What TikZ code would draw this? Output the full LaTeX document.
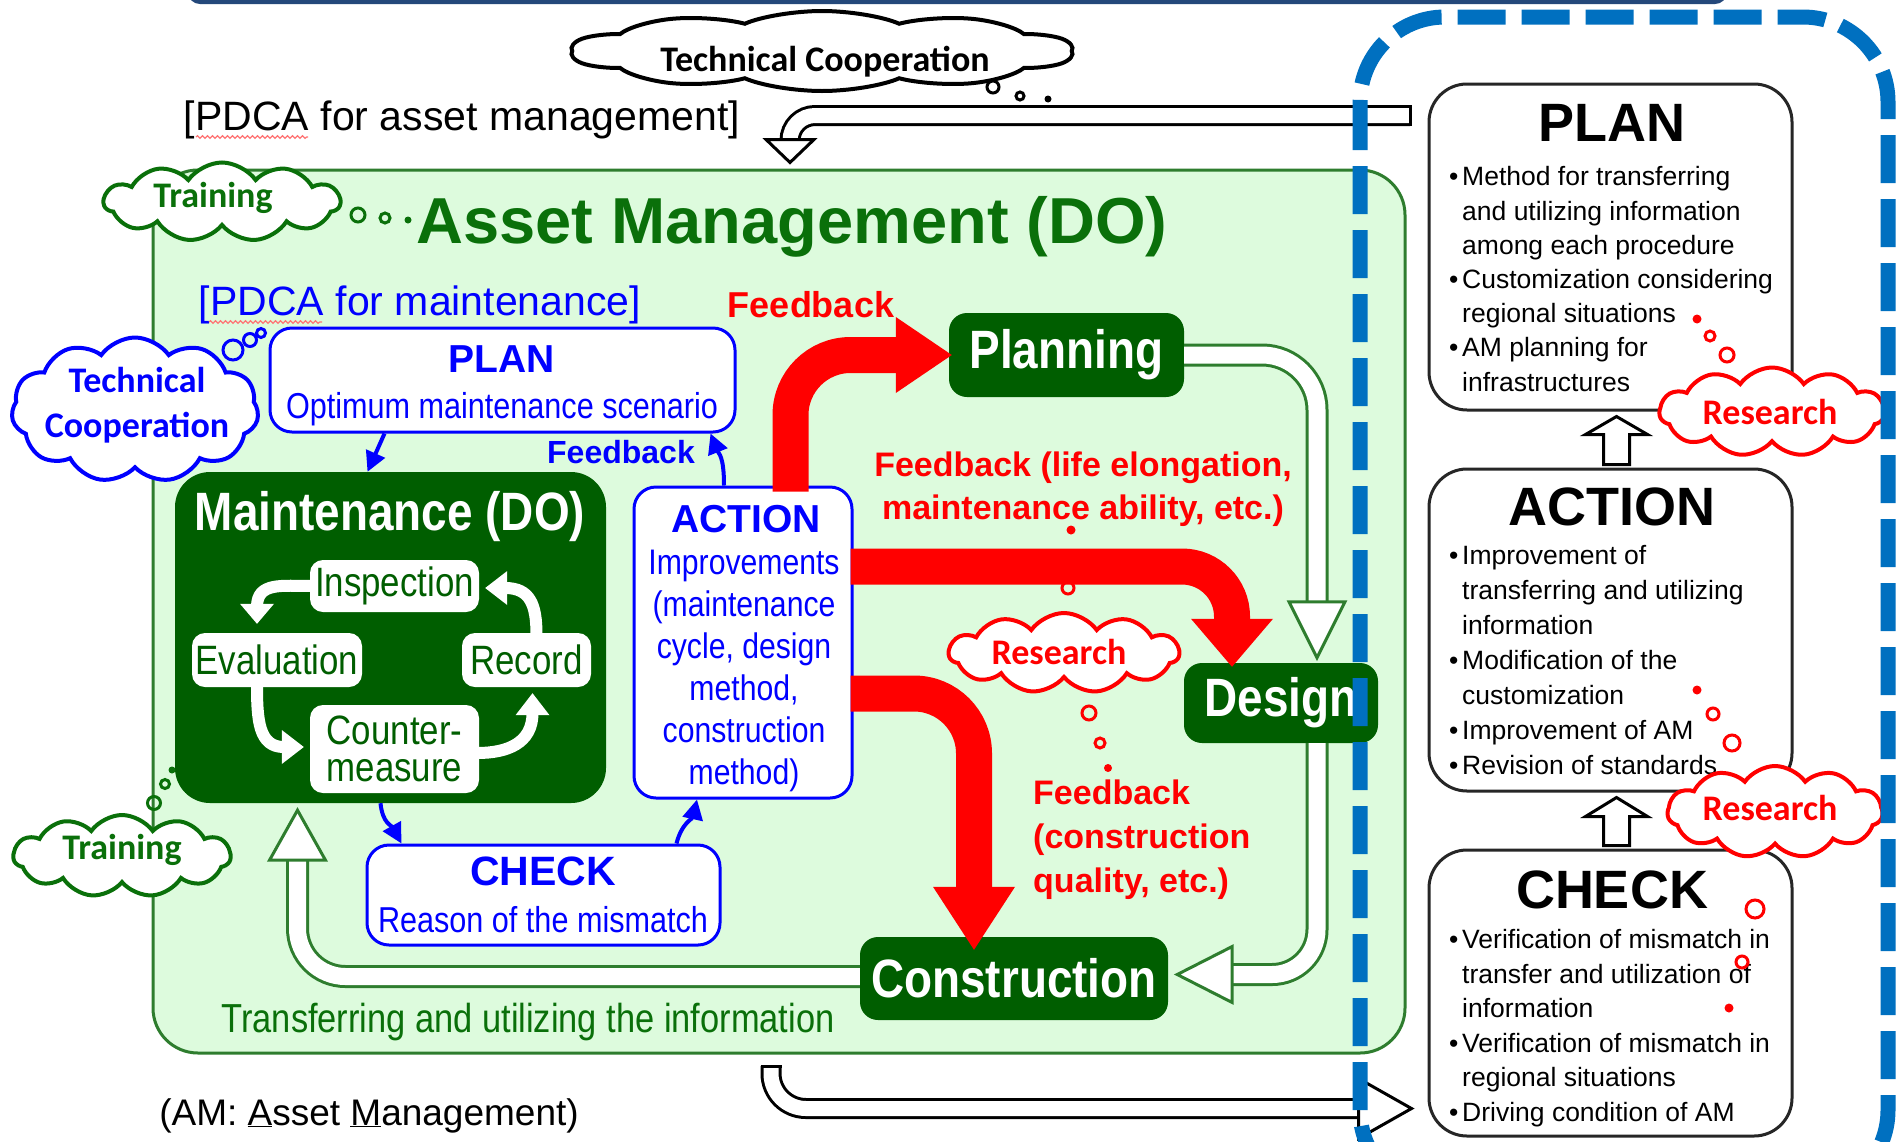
\documentclass[tikz,border=0pt]{standalone}
\usepackage{fontspec}
\setmainfont{Liberation Sans}
\newfontfamily\narrowfont[FakeStretch=0.85]{Liberation Sans}
\newfontfamily\cloudfont{Carlito}
\usetikzlibrary{calc,shapes.symbols,arrows.meta,decorations.pathmorphing}

\definecolor{amgreen}{HTML}{0A700A}
\definecolor{boxgreen}{HTML}{005E00}
\definecolor{lightgreen}{HTML}{DDFBDD}
\definecolor{edgegreen}{HTML}{2E7D2E}
\definecolor{dashblue}{HTML}{0070C0}
\definecolor{topblue}{HTML}{24487A}

\tikzset{
  darkbox/.style={fill=boxgreen, rounded corners=18pt, inner sep=0pt, text=white,
    font=\narrowfont\bfseries\fontsize{54}{58}\selectfont},
  labelbox/.style={fill=white, rounded corners=13pt, inner sep=0pt, text=boxgreen,
    align=center, font=\narrowfont\fontsize{41}{37}\selectfont},
  bluebox/.style={draw=blue, fill=white, line width=3pt, rounded corners=22pt},
  blackbox/.style={draw=black!85, fill=white, line width=3pt, rounded corners=38pt},
  cloudbox/.style={cloud, cloud puffs=11, cloud puff arc=110, cloud ignores aspect,
    draw=#1, fill=white, line width=4pt, inner sep=0pt},
  cloudtext/.style={text=#1, inner sep=0pt, align=center,
    font=\cloudfont\bfseries\fontsize{36}{45}\selectfont},
  bubble/.style={draw=#1, line width=3pt},
  bluearrow/.style={draw=blue, line width=4pt, -{Triangle[length=20pt,width=20pt]}},
  redarrow/.style={draw=red, line width=36pt, rounded corners=#1},
  hollow/.style={draw=#1, line width=3pt, double=white, double distance=17pt},
  hollowhead/.style={draw=#1, fill=white, line width=3pt},
  cyclearrow/.style={draw=white, line width=12pt},
  squiggle/.style={draw=red!55, line width=1.2pt, decorate,
    decoration={snake, amplitude=1.3pt, segment length=5pt}}
}

\begin{document}
\begin{tikzpicture}[x=1pt, y=-1pt]
\useasboundingbox (0,0) rectangle (1902,1141);
\fill[white] (0,0) rectangle (1902,1141);

%上の枠
\draw[topblue, line width=4pt, rounded corners=10pt] (190,-20) -- (190,2) -- (1725,2) -- (1725,-20);

%アセットマネジメントの枠
\node[draw=edgegreen, fill=lightgreen, line width=3pt, rounded corners=45pt,
  minimum width=1252pt, minimum height=883pt] (ambox) at (779,611.5) {};

%箱
\node[darkbox, rounded corners=35pt, minimum width=431pt, minimum height=331pt] (maint) at (390.5,637.5) {};
\node[bluebox, minimum width=465pt, minimum height=104pt] (plan) at (502.5,380) {};
\node[bluebox, minimum width=218pt, minimum height=311pt] (act) at (743,642.5) {};
\node[bluebox, minimum width=353pt, minimum height=100pt] (check) at (543.5,895) {};
\node[darkbox, minimum width=235pt, minimum height=84pt] (planning) at (1066.5,355) {Planning};
\node[darkbox, minimum width=194pt, minimum height=80pt] (design) at (1281,703) {Design};
\node[darkbox, minimum width=308pt, minimum height=83pt] (construction) at (1014,978.5) {Construction};

\node[labelbox, minimum width=169pt, minimum height=52pt] (insp) at (394.5,586) {Inspection};
\node[labelbox, minimum width=170pt, minimum height=54pt] (evalu) at (277,660) {Evaluation};
\node[labelbox, minimum width=129pt, minimum height=54pt] (record) at (526.5,660) {Record};
\node[labelbox, minimum width=169pt, minimum height=88pt] (counter) at (394.5,749) {Counter-\\measure};

%右側のPDCA
\node[blackbox, minimum width=363pt, minimum height=326pt] (rplan) at (1610.5,247) {};
\node[anchor=base, inner sep=0pt, font=\bfseries\fontsize{54}{60}\selectfont] (rplanhead) at (1612,141) {PLAN};
\node[anchor=north west, inner sep=0pt, align=left, font=\fontsize{26.5}{34.2}\selectfont] (rplanlist) at (1449,166.5)
  {\makebox[13pt][l]{\textbullet}Method for transferring\\
   \hspace*{13pt}and utilizing information\\
   \hspace*{13pt}among each procedure\\
   \makebox[13pt][l]{\textbullet}Customization considering\\
   \hspace*{13pt}regional situations\\
   \makebox[13pt][l]{\textbullet}AM planning for\\
   \hspace*{13pt}infrastructures};

\node[blackbox, minimum width=363pt, minimum height=322pt] (ract) at (1610.5,630) {};
\node[anchor=base, inner sep=0pt, font=\bfseries\fontsize{54}{60}\selectfont] (racthead) at (1612,525) {ACTION};
\node[anchor=north west, inner sep=0pt, align=left, font=\fontsize{26.5}{35}\selectfont] (ractlist) at (1449,545)
  {\makebox[13pt][l]{\textbullet}Improvement of\\
   \hspace*{13pt}transferring and utilizing\\
   \hspace*{13pt}information\\
   \makebox[13pt][l]{\textbullet}Modification of the\\
   \hspace*{13pt}customization\\
   \makebox[13pt][l]{\textbullet}Improvement of AM\\
   \makebox[13pt][l]{\textbullet}Revision of standards};

\node[blackbox, minimum width=363pt, minimum height=286pt] (rcheck) at (1610.5,993) {};
\node[anchor=base, inner sep=0pt, font=\bfseries\fontsize{54}{60}\selectfont] (rcheckhead) at (1612,908) {CHECK};
\node[anchor=north west, inner sep=0pt, align=left, font=\fontsize{26.5}{34.6}\selectfont] (rchecklist) at (1449,929)
  {\makebox[13pt][l]{\textbullet}Verification of mismatch in\\
   \hspace*{13pt}transfer and utilization of\\
   \hspace*{13pt}information\\
   \makebox[13pt][l]{\textbullet}Verification of mismatch in\\
   \hspace*{13pt}regional situations\\
   \makebox[13pt][l]{\textbullet}Driving condition of AM};

\filldraw[hollowhead=black] ($(ract.north)+(-7,-3)$) -- ++(0,-30) -- ++(-18,0) -- ++(31,-18) -- ++(31,18) -- ++(-18,0) -- ++(0,30) -- cycle;
\filldraw[hollowhead=black] ($(rcheck.north)+(-7,-3)$) -- ++(0,-29) -- ++(-18,0) -- ++(31,-19) -- ++(31,19) -- ++(-18,0) -- ++(0,29) -- cycle;

%外側の矢印
\draw[hollow=black, double distance=15pt, rounded corners=25pt]
  ($(rplan.north west)+(-17.5,33)$) -| ($(ambox.north)+(11,-26.5)$);
\draw[line width=3pt] ($(rplan.north west)+(-17.5,22.5)$) -- ++(0,21);
\filldraw[hollowhead=black] ($(ambox.north)+(11,-6)$) -- ++(-24,-23) -- ++(48,0) -- cycle;

\draw[hollow=black, double distance=15pt, rounded corners=35pt]
  ($(ambox.south)+(-8,11.5)$) |- ($(rcheck.south west)+(-67.5,-29)$);
\draw[line width=3pt] ($(ambox.south)+(-18.5,11.5)$) -- ++(21,0);
\filldraw[hollowhead=black] ($(rcheck.south west)+(-16,-29)$) -- ++(-53,-30) -- ++(0,60) -- cycle;

%白い矢印
\draw[hollow=edgegreen, rounded corners=55pt] (planning.east) -| ($(design.north)+(36,-60)$);
\filldraw[hollowhead=edgegreen] ($(design.north)+(36,-5)$) -- ++(-28,-56) -- ++(56,0) -- cycle;
\draw[hollow=edgegreen, rounded corners=45pt] ($(design.south)+(36,0)$) |- ($(construction.east)+(62,-4)$);
\filldraw[hollowhead=edgegreen] ($(construction.east)+(9,-4)$) -- ++(55,-28) -- ++(0,56) -- cycle;
\draw[hollow=edgegreen, rounded corners=48pt] ($(construction.west)+(0,-2)$) -| ($(maint.south)+(-93,55)$);
\filldraw[hollowhead=edgegreen] ($(maint.south)+(-93,7)$) -- ++(-28,50) -- ++(56,0) -- cycle;

%維持管理のサイクル
\draw[cyclearrow] ($(insp.west)+(2,0)$) .. controls +(-30,0) and +(0,-25) .. ($(evalu.north)+(-20,-26)$);
\fill[white] ($(evalu.north)+(-20,-9)$) -- ++(-17,-20) -- ++(34,0) -- cycle;
\draw[cyclearrow] ($(record.north)+(10,2)$) .. controls +(0,-30) and +(25,0) .. ($(insp.east)+(26,2)$);
\fill[white] ($(insp.east)+(6,2)$) -- ++(22,-17) -- ++(0,34) -- cycle;
\draw[cyclearrow] ($(evalu.south)+(-20,-2)$) .. controls +(0,35) and +(-25,0) .. ($(counter.west)+(-26,-2)$);
\fill[white] ($(counter.west)+(-6,-2)$) -- ++(-22,-17) -- ++(0,34) -- cycle;
\draw[cyclearrow] ($(counter.east)+(-2,4)$) .. controls +(30,0) and +(0,30) .. ($(record.south)+(6,26)$);
\fill[white] ($(record.south)+(6,6)$) -- ++(-17,22) -- ++(34,0) -- cycle;

%青い矢印
\draw[bluearrow] ($(plan.south west)+(116,0)$) -- ($(maint.north)+(-23,0)$);
\draw[bluearrow] ($(act.north)+(-19,0)$) .. controls +(0,-30) and +(8,20) .. ($(plan.south east)+(-26,0)$);
\draw[bluearrow] ($(maint.south)+(-10,0)$) .. controls +(2,20) and +(-10,-18) .. ($(check.north west)+(36,0)$);
\draw[bluearrow] ($(check.north east)+(-45,0)$) .. controls +(5,-20) and +(-4,18) .. ($(act.south)+(-46,0)$);

%赤い矢印
\draw[redarrow=60pt] ($(act.north east)+(-63,6)$) |- ($(planning.west)+(-50,0)$);
\fill[red] ($(planning.west)+(3,0)$) -- ++(-56,-38) -- ++(0,76) -- cycle;
\draw[redarrow=50pt] ($(act.north east)+(-3,81)$) -| ($(design.north)+(-49,-41)$);
\fill[red] ($(design.north)+(-49,4)$) -- ++(-41,-48) -- ++(82,0) -- cycle;
\draw[redarrow=60pt] ($(act.north east)+(-3,208)$) -| ($(construction.north)+(-40,-47)$);
\fill[red] ($(construction.north)+(-40,13)$) -- ++(-41,-63) -- ++(82,0) -- cycle;

%文字
\node[anchor=base, inner sep=0pt, font=\fontsize{41}{46}\selectfont] (pdcaam) at (462,130) {[PDCA for asset management]};
\draw[squiggle] (196,137) -- (308,137);
\node[anchor=base, inner sep=0pt, text=amgreen, font=\bfseries\fontsize{65}{70}\selectfont] (amtitle) at (792,243) {Asset Management (DO)};
\node[anchor=base, inner sep=0pt, text=blue, font=\fontsize{41}{46}\selectfont] (pdcamt) at (420,315) {[PDCA for maintenance]};
\draw[squiggle] (209,322) -- (322,322);
\node[anchor=base, inner sep=0pt, text=red, font=\bfseries\fontsize{36}{40}\selectfont] (fbplanning) at (811,317) {Feedback};
\node[anchor=base, inner sep=0pt, text=blue, font=\bfseries\fontsize{39}{44}\selectfont] (planhead) at (502,372) {PLAN};
\node[anchor=base, inner sep=0pt, text=blue, font=\narrowfont\fontsize{36}{40}\selectfont] (plantext) at (502,418) {Optimum maintenance scenario};
\node[anchor=base, inner sep=0pt, text=blue, font=\bfseries\fontsize{32}{36}\selectfont] (fbplan) at (621,463) {Feedback};
\node[anchor=base, inner sep=0pt, text=white, font=\narrowfont\bfseries\fontsize{54}{58}\selectfont] (mainthead) at (390,530) {Maintenance (DO)};
\node[anchor=base, inner sep=0pt, text=blue, font=\bfseries\fontsize{39}{44}\selectfont] (acthead) at (746,532) {ACTION};
\node[anchor=north, inner sep=0pt, align=center, text=blue, font=\narrowfont\fontsize{35.5}{42}\selectfont] (acttext) at (744,550)
  {Improvements\\(maintenance\\cycle, design\\method,\\construction\\method)};
\node[anchor=base, inner sep=0pt, text=blue, font=\bfseries\fontsize{41}{45}\selectfont] (checkhead) at (543,885) {CHECK};
\node[anchor=base, inner sep=0pt, text=blue, font=\narrowfont\fontsize{36}{40}\selectfont] (checktext) at (543,932) {Reason of the mismatch};
\node[anchor=north, inner sep=0pt, align=center, text=red, font=\bfseries\fontsize{34}{43}\selectfont] (fbdesign) at (1083,452)
  {Feedback (life elongation,\\maintenance ability, etc.)};
\node[anchor=north west, inner sep=0pt, align=left, text=red, font=\bfseries\fontsize{34}{44}\selectfont] (fbconst) at (1033,780)
  {Feedback\\(construction\\quality, etc.)};
\node[anchor=base, inner sep=0pt, text=amgreen, font=\narrowfont\fontsize{40.5}{44}\selectfont] (transfer) at (528,1032) {Transferring and utilizing the information};
\node[anchor=base, inner sep=0pt, font=\fontsize{37}{42}\selectfont] (amnote) at (369,1125) {(AM: \underline{A}sset \underline{M}anagement)};

%雲
\begin{scope}[shift={(822,51)}, xscale=3.15]
\node[cloudbox=black, cloud puffs=10, transform shape, minimum width=160pt, minimum height=80pt] (coopA) at (0,0) {};
\end{scope}
\node[cloudtext=black] (coopAtext) at (825,62) {Technical Cooperation};
\draw[bubble=black] (993,87) circle (6pt);
\draw[bubble=black] (1020,96) circle (4pt);
\fill[black] (1048,99) circle (3.5pt);
\node[cloudbox=amgreen, minimum width=236pt, minimum height=79pt] (trainA) at (222,202) {};
\node[cloudtext=amgreen] (trainAtext) at ($(trainA)+(-9,-4)$) {Training};
\draw[bubble=amgreen] (358,215) circle (7pt);
\draw[bubble=amgreen] (385,218) circle (5pt);
\fill[amgreen] (408,220) circle (3.5pt);
\node[cloudbox=blue, minimum width=247pt, minimum height=145pt] (coopB) at (135,410) {};
\node[cloudtext=blue] (coopBtext) at ($(coopB)+(2,-5)$) {Technical\\Cooperation};
\draw[bubble=blue] (233,350) circle (10pt);
\draw[bubble=blue] (250,340) circle (6.5pt);
\draw[bubble=blue] (261,333) circle (4.5pt);
\node[cloudbox=amgreen, minimum width=217pt, minimum height=82pt] (trainB) at (122,856) {};
\node[cloudtext=amgreen] (trainBtext) at ($(trainB)+(0,-6)$) {Training};
\draw[bubble=amgreen] (154,803) circle (6.5pt);
\draw[bubble=amgreen] (165,784) circle (4.5pt);
\fill[amgreen] (172,770) circle (3.5pt);
\node[cloudbox=red, minimum width=230pt, minimum height=80pt] (resA) at (1064,653) {};
\node[cloudtext=red] (resAtext) at ($(resA)+(-5,-1)$) {Research};
\fill[red] (1071,530) circle (4.5pt);
\fill[red] (1069,557) circle (2pt);
\draw[bubble=red] (1068,588) circle (6pt);
\draw[bubble=red] (1089,713) circle (7pt);
\draw[bubble=red] (1100,743) circle (5pt);
\fill[red] (1108,768) circle (4pt);
\node[cloudbox=red, minimum width=225pt, minimum height=89pt] (resB) at (1772,412) {};
\node[cloudtext=red] (resBtext) at ($(resB)+(-2,0)$) {Research};
\fill[red] (1697,319) circle (4.5pt);
\draw[bubble=red] (1710,336) circle (5pt);
\draw[bubble=red] (1727,355) circle (7pt);
\node[cloudbox=red, minimum width=215pt, minimum height=92pt] (resC) at (1775,812) {};
\node[cloudtext=red] (resCtext) at ($(resC)+(-5,-4)$) {Research};
\fill[red] (1697,690) circle (4.5pt);
\draw[bubble=red] (1713,714) circle (6pt);
\draw[bubble=red] (1732,743) circle (8pt);
\draw[bubble=red] (1755,909) circle (9pt);
\draw[bubble=red] (1742,962) circle (6pt);
\fill[red] (1729,1008) circle (4.5pt);

%青い点線の枠
\draw[dashblue, line width=15pt, dash pattern=on 48pt off 16pt, rounded corners=85pt] (1360,17) rectangle (1888,1195);
\end{tikzpicture}
\end{document}
